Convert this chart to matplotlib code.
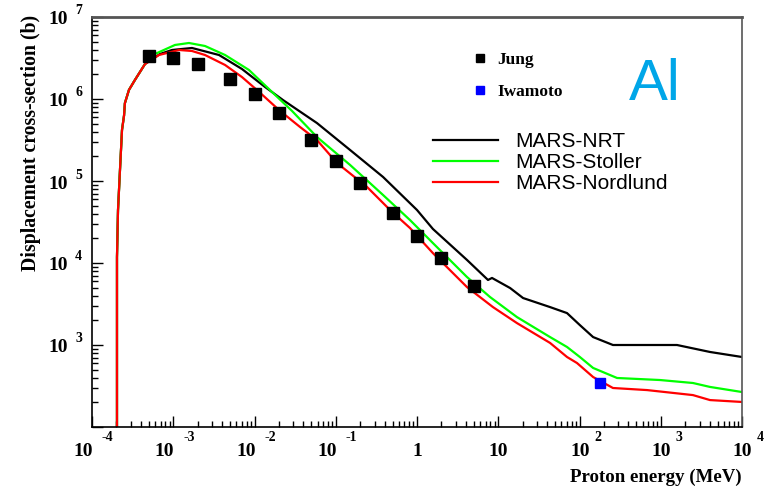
import numpy as np
import matplotlib.pyplot as plt
from matplotlib.lines import Line2D
from matplotlib.transforms import blended_transform_factory, offset_copy

#%% Data (energy in MeV, cross-section in barn)
# shared low-energy rise, all three models sit on top of each other here
e_rise = [2.03e-4, 2.03e-4, 2.09e-4, 2.21e-4, 2.34e-4, 2.48e-4, 2.54e-4, 2.85e-4, 3.38e-4, 4.49e-4]
s_rise = [10, 1.18e4, 4.43e4, 1.36e5, 4.19e5, 6.3e5, 8.9e5, 1.29e6, 1.71e6, 2.67e6]

e_nrt = [6.87e-4, 9.66e-4, 1.70e-3, 3.66e-3, 7.02e-3, 1.35e-2, 2.24e-2, 5.87e-2, 0.15, 0.382,
         1.0, 1.57, 4.12, 7.48, 8.38, 14.0, 20.2, 43.4, 70.2, 101, 147, 258, 1585, 4040, 1e4]
s_nrt = [3.54e6, 3.96e6, 4.19e6, 3.44e6, 2.32e6, 1.40e6, 9.72e5, 5.09e5, 2.39e5, 1.12e5,
         4.43e4, 2.6e4, 1.09e4, 6.21e3, 6.57e3, 4.95e3, 3.74e3, 2.9e3, 2.45e3, 1.75e3, 1.25e3, 1000, 1000, 822, 714]

e_stoller = [5.96e-4, 1.05e-3, 1.56e-3, 2.46e-3, 4.34e-3, 8.55e-3, 1.64e-2, 2.9e-2, 5.87e-2, 0.15,
             0.382, 0.82, 1.57, 4.12, 7.91, 17.0, 43.4, 70.2, 101, 147, 290, 979, 2490, 4040, 1e4]
s_stoller = [3.54e6, 4.56e6, 4.82e6, 4.43e6, 3.44e6, 2.26e6, 1.22e6, 7.14e5, 3.44e5, 1.57e5,
             6.75e4, 3.34e4, 1.75e4, 6.75e3, 3.85e3, 2.19e3, 1.25e3, 946, 714, 525, 396, 374, 344, 308, 267]

e_nordlund = [6.68e-4, 1.18e-3, 1.70e-3, 2.46e-3, 4.34e-3, 7.02e-3, 1.14e-2, 2.0e-2, 3.63e-2, 5.87e-2,
              0.1035, 0.243, 0.466, 0.82, 1.57, 4.12, 8.61, 17.0, 43.4, 70.2, 93.1, 147, 258, 678, 2490, 4040, 1e4]
s_nordlund = [3.44e6, 3.96e6, 3.85e6, 3.44e6, 2.60e6, 1.85e6, 1.22e6, 7.35e5, 4.56e5, 3.16e5,
              1.66e5, 8.45e4, 4.43e4, 2.67e4, 1.32e4, 5.09e3, 2.9e3, 1.85e3, 1.06e3, 714, 603, 407, 299, 282, 245, 213, 202]

e_jung = [5e-4, 1e-3, 2e-3, 5e-3, 1e-2, 2e-2, 5e-2, 0.1, 0.2, 0.5, 1, 2, 5]
s_jung = [3.32e6, 3.2e6, 2.65e6, 1.75e6, 1.16e6, 6.8e5, 3.16e5, 1.75e5, 9.5e4, 4.1e4, 2.13e4, 1.15e4, 5.2e3]

e_iwamoto = [180]
s_iwamoto = [344]

#%% Plot
serif = 'Liberation Serif'
W, H = 776, 490
fig = plt.figure(figsize=(W / 100, H / 100), dpi=100)
ax = fig.add_axes([92 / W, 1 - 427 / H, (742 - 92) / W, (427 - 17) / H])

ax.plot(e_rise + e_nrt, s_rise + s_nrt, color='black', lw=1.6, label='MARS-NRT')
ax.plot(e_rise + e_stoller, s_rise + s_stoller, color='#00ff00', lw=1.6, label='MARS-Stoller')
ax.plot(e_rise + e_nordlund, s_rise + s_nordlund, color='#ff0000', lw=1.6, label='MARS-Nordlund')
ax.plot(e_jung, s_jung, 's', color='black', ms=8.5, zorder=5)
ax.plot(e_iwamoto, s_iwamoto, 's', color='#0000ff', ms=6.5, zorder=5)

ax.set_xscale('log')
ax.set_yscale('log')
ax.set_xlim(1e-4, 1e4)
ax.set_ylim(1e2, 1e7)

ax.xaxis.set_major_locator(plt.LogLocator(base=10, numticks=20))
ax.xaxis.set_minor_locator(plt.LogLocator(base=10, subs=np.arange(2, 10), numticks=20))
ax.yaxis.set_major_locator(plt.LogLocator(base=10, numticks=20))
ax.yaxis.set_minor_locator(plt.LogLocator(base=10, subs=np.arange(2, 10), numticks=20))
ax.tick_params(which='both', direction='in', top=False, right=False, labelbottom=False, labelleft=False)
ax.tick_params(which='major', length=8, width=1)
ax.tick_params(which='minor', length=4, width=1)

for s in ['left', 'bottom']:
    ax.spines[s].set_linewidth(1.2)
ax.spines['top'].set_color('#555555')
ax.spines['top'].set_linewidth(2)
ax.spines['right'].set_color('#555555')
ax.spines['right'].set_linewidth(1.2)

# ROOT style tick labels: "10" with a raised exponent
tx = blended_transform_factory(ax.transData, ax.transAxes)
for k in range(-4, 5):
    v = 10.0 ** k
    if k == 0 or k == 1:
        ax.text(v, 0, '1' if k == 0 else '10', transform=offset_copy(tx, fig, x=0, y=-24, units='dots'),
                ha='center', va='center', family=serif, weight='bold', fontsize=14)
        continue
    d10, dexp = (1, 10) if k < 0 else (10, 15)
    ax.text(v, 0, '10', transform=offset_copy(tx, fig, x=d10, y=-24, units='dots'),
            ha='right', va='center', family=serif, weight='bold', fontsize=14)
    ax.text(v, 0, str(k), transform=offset_copy(tx, fig, x=dexp, y=-10, units='dots'),
            ha='left', va='center', family=serif, weight='bold', fontsize=10)

ty = blended_transform_factory(ax.transAxes, ax.transData)
for k in range(3, 8):
    v = 10.0 ** k
    ax.text(0, v, '10', transform=offset_copy(ty, fig, x=-24, y=-3, units='dots'),
            ha='right', va='center', family=serif, weight='bold', fontsize=14)
    ax.text(0, v, str(k), transform=offset_copy(ty, fig, x=-17, y=6, units='dots'),
            ha='left', va='center', family=serif, weight='bold', fontsize=10)

fig.text(742 / W, 1 - 477 / H, 'Proton energy (MeV)', ha='right', va='center',
         family=serif, weight='bold', fontsize=13.6)
fig.text(31 / W, 1 - 15 / H, 'Displacement cross-section (b)', rotation=90, ha='center', va='top',
         family=serif, weight='bold', fontsize=14.2)

# legends
h_data = [Line2D([], [], ls='none', marker='s', color='black', ms=6),
          Line2D([], [], ls='none', marker='s', color='#0000ff', ms=6)]
leg1 = ax.legend(h_data, ['Jung', 'Iwamoto'], loc='upper left', bbox_to_anchor=(471 / W, 1 - 52 / H),
                 bbox_transform=fig.transFigure, frameon=False, borderpad=0, borderaxespad=0,
                 handlelength=1.0, handletextpad=0.5, labelspacing=0.93,
                 prop={'family': serif, 'weight': 'bold', 'size': 12.5})
ax.add_artist(leg1)
ax.legend(loc='upper left', bbox_to_anchor=(433 / W, 1 - 132 / H), bbox_transform=fig.transFigure,
          frameon=False, borderpad=0, borderaxespad=0, handlelength=3.1, handletextpad=0.85,
          labelspacing=0.1, prop={'family': 'Liberation Sans', 'size': 15})

fig.text(655 / W, 1 - 85 / H, 'Al', color='#00a6e8', family='Liberation Sans', fontsize=42,
         ha='center', va='center')

plt.savefig('out.png', dpi=100)
